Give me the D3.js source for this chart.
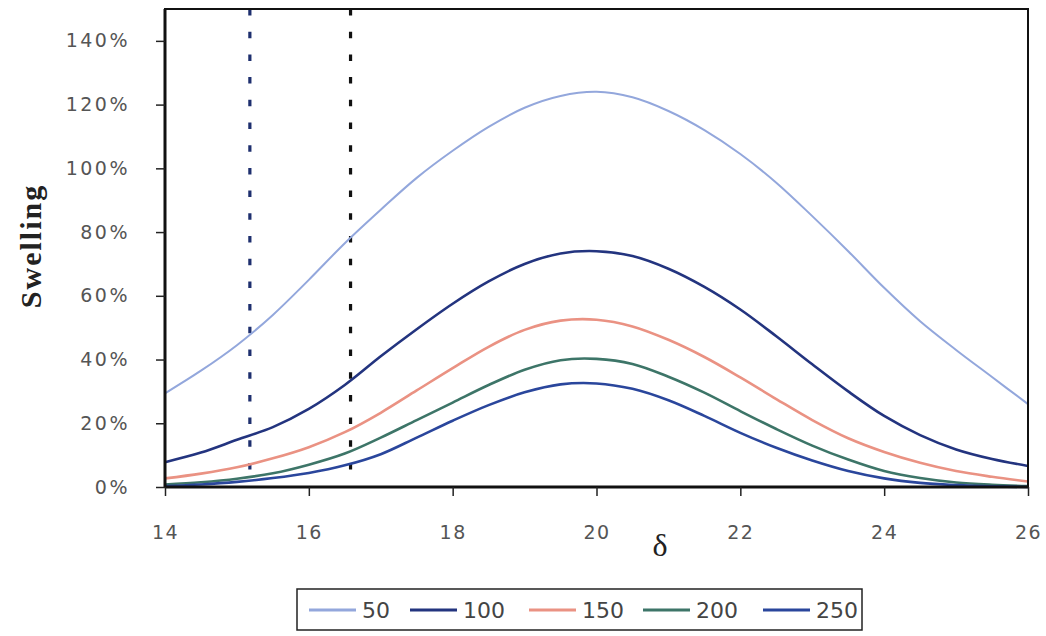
<!DOCTYPE html>
<html><head><meta charset="utf-8">
<script src="https://cdn.jsdelivr.net/npm/d3@7"></script>
<style>body{margin:0;background:#fff}svg{display:block}</style>
</head><body><svg id="c" width="1046" height="636"></svg>
<script>
// ---- data ----
const deltas = [14,14.5,15,15.5,16,16.5,17,17.5,18,18.5,19,19.5,20,20.5,21,21.5,22,22.5,23,23.5,24,24.5,25,25.5,26];
const s50  = [29.4,36.5,44.5,54,65,76.5,87,97,105.5,113,119,122.7,124,122.3,118,112,104.5,95.5,85,74,62.5,52,43,34.5,26];
const s100 = [7.8,10.8,14.8,18.8,24.5,32,41,49.5,57.5,64.5,70,73.3,74,72.5,68.5,62.8,55.7,47.3,38.5,30,22.3,16.3,11.8,8.8,6.6];
const s150 = [2.7,4.2,6.2,9,12.5,17.2,23.3,30.3,37.3,44,49.3,52.2,52.5,50.4,46.2,40.8,34.4,27.6,21,15.3,11,7.6,5,3.2,1.7];
const s200 = [0.8,1.5,2.6,4.3,7,10.5,15.5,21,26.5,32,36.8,39.8,40.2,38.6,34.6,29.6,23.8,18.2,13,8.6,5,2.8,1.4,0.7,0.3];
const s250 = [0.3,0.8,1.6,2.8,4.4,6.8,10.3,15.5,20.8,25.7,29.7,32.2,32.5,30.8,27.2,22.3,17,12.3,8.3,5,2.7,1.3,0.6,0.2,0];
const seriesNames = ["50","100","150","200","250"];
const seriesValues = [s50,s100,s150,s200,s250];
const seriesColors = ["#93a7dc","#23347f","#ea9283","#3d7568","#2a469c"];
const yTicks = [0,20,40,60,80,100,120,140];
const xTicks = [14,16,18,20,22,24,26];
const markerX = [15.18, 16.58];
const markerBottom = [2.5, 4];
const markerColors = ["#1e2f6e","#111111"];

// ---- layout ----
const svg = d3.select("#c");
const L = 165, R = 1028, T = 9, B = 487;
const x = d3.scaleLinear().domain([14,26]).range([L,R]);
const y = d3.scaleLinear().domain([0,150]).range([B,T]);

// marker dotted lines
markerX.forEach((mx,i)=>{
  svg.append("line")
    .attr("x1",x(mx)).attr("x2",x(mx))
    .attr("y1",y(150)).attr("y2",y(markerBottom[i]))
    .attr("stroke",markerColors[i]).attr("stroke-width",3.2)
    .attr("stroke-dasharray","6.5,16.2");
});

// series
const line = d3.line().x((d,i)=>x(deltas[i])).y(d=>y(d)).curve(d3.curveCatmullRom.alpha(0.5));
seriesValues.forEach((vals,k)=>{
  svg.append("path").attr("d",line(vals))
    .attr("fill","none").attr("stroke",seriesColors[k])
    .attr("stroke-width", k===0?2:2.6);
});

// frame
svg.append("rect").attr("x",L).attr("y",T).attr("width",R-L).attr("height",B-T)
  .attr("fill","none").attr("stroke","#111").attr("stroke-width",2);
svg.append("line").attr("x1",L).attr("x2",L).attr("y1",T).attr("y2",B+1).attr("stroke","#111").attr("stroke-width",3);
svg.append("line").attr("x1",L).attr("x2",R).attr("y1",B).attr("y2",B).attr("stroke","#111").attr("stroke-width",3);

// axes
const ya = svg.append("g").attr("transform",`translate(${L},0)`)
  .call(d3.axisLeft(y).tickValues(yTicks).tickFormat(d=>d+"%").tickSize(9).tickPadding(26));
const xa = svg.append("g").attr("transform",`translate(0,${B})`)
  .call(d3.axisBottom(x).tickValues(xTicks).tickSize(9).tickPadding(30));
[ya,xa].forEach(g=>{
  g.select(".domain").remove();
  g.selectAll(".tick line").attr("stroke","#222").attr("stroke-width",1.5);
  g.selectAll(".tick text").attr("fill","#555").style("font-family","DejaVu Sans, sans-serif")
   .style("font-size","19px");
});
ya.selectAll(".tick text").style("letter-spacing","2.5px");
xa.selectAll(".tick text").style("letter-spacing","1.5px");

// axis titles
svg.append("text").attr("transform","translate(41,246) rotate(-90)")
  .attr("text-anchor","middle").style("font-family","Liberation Serif, serif")
  .style("font-weight","bold").style("font-size","30px").style("letter-spacing","2px")
  .attr("fill","#222").text("Swelling");
svg.append("text").attr("x",660).attr("y",556).attr("text-anchor","middle")
  .style("font-family","Liberation Serif, serif").style("font-size","32px")
  .attr("fill","#222").text("δ");

// legend
const lg = svg.append("g");
lg.append("rect").attr("x",297).attr("y",589).attr("width",565).attr("height",41)
  .attr("fill","#fff").attr("stroke","#222").attr("stroke-width",1.5);
const legX = [309,410,529,643,763];
seriesNames.forEach((n,k)=>{
  lg.append("line").attr("x1",legX[k]).attr("x2",legX[k]+47).attr("y1",610).attr("y2",610)
    .attr("stroke",seriesColors[k]).attr("stroke-width",3);
  lg.append("text").attr("x",legX[k]+53).attr("y",618)
    .style("font-family","DejaVu Sans, sans-serif").style("font-size","22px")
    .attr("fill","#444").text(n);
});
</script></body></html>
